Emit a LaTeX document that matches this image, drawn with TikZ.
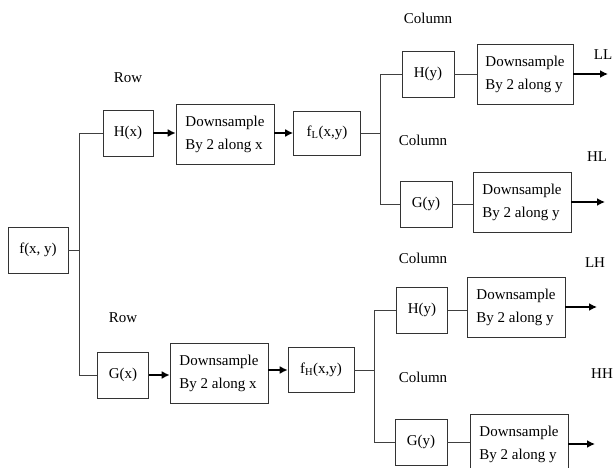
\documentclass[tikz,border=0pt]{standalone}
\usepackage{fontspec}
\setmainfont{Liberation Serif}
\usetikzlibrary{shapes,arrows,arrows.meta}
\tikzstyle{line} = [draw, line width=1.8pt, -{Latex[length=8pt,width=8pt]}]
\tikzstyle{wire} = [draw, line width=0.6pt, black!75]

\begin{document}
\begin{tikzpicture}
  [x=1pt,y=-1pt,every node/.style={font=\fontsize{15}{23}\selectfont}]
  \tikzstyle{box} = [draw=black!80, line width=0.6pt, inner sep=0pt, minimum height=46pt]
  \tikzstyle{down} = [box, align=left, minimum width=98pt, minimum height=60pt]
  \useasboundingbox (0,0) rectangle (614,468);

  \node (fxy) [box, minimum width=60pt] at (38,250)  {f(x, y)};

  % row filters
  \node (Hx) [box, minimum width=50pt] at (128,133)  {H(x)};
  \node (dsx1) [down] at (225,134)  {Downsample\\By 2 along x};
  \node (fL) [box, minimum width=67pt, minimum height=44pt] at (327,133)  {f\textsubscript{L}(x,y)};
  \node (Gx) [box, minimum width=51pt] at (123,375)  {G(x)};
  \node (dsx2) [down] at (219,373)  {Downsample\\By 2 along x};
  \node (fH) [box, minimum width=66pt, minimum height=45pt] at (321,370)  {f\textsubscript{H}(x,y)};

  \node (row1) at (128,78)  {Row};
  \node (row2) at (123,318)  {Row};

  \coordinate (b1) at (79,250);
  \path [wire] (fxy) -- (b1);
  \path [wire] (b1) |- (Hx.west);
  \path [wire] (b1) |- (Gx.west);
  \path [line] (Hx) -- (dsx1.west |- Hx);
  \path [line] (dsx1.east |- fL) -- (fL);
  \path [line] (Gx) -- (dsx2.west |- Gx);
  \path [line] (dsx2.east |- fH) -- (fH);

  % column filters on f_L
  \node (Hy1) [box, minimum width=52pt] at (428,74)  {H(y)};
  \node (dsy1) [down, minimum width=96pt] at (525,74)  {Downsample\\By 2 along y};
  \node (Gy1) [box, minimum width=52pt] at (426,204)  {G(y)};
  \node (dsy2) [down] at (522,202)  {Downsample\\By 2 along y};

  \coordinate (b2) at (380,133);
  \path [wire] (fL) -- (b2);
  \path [wire] (b2) |- (Hy1.west);
  \path [wire] (b2) |- (Gy1.west);
  \path [wire] (Hy1) -- (dsy1.west |- Hy1);
  \path [wire] (Gy1) -- (dsy2.west |- Gy1);

  \coordinate (LL) at (608,74);
  \coordinate (HL) at (605,202);
  \path [line] (dsy1) -- (LL);
  \path [line] (dsy2) -- (HL);

  % column filters on f_H
  \node (Hy2) [box, minimum width=51pt] at (422,310)  {H(y)};
  \node (dsy3) [down] at (516,307)  {Downsample\\By 2 along y};
  \node (Gy2) [box, minimum width=52pt] at (421,442)  {G(y)};
  \node (dsy4) [down] at (519,444)  {Downsample\\By 2 along y};

  \coordinate (b3) at (374,370);
  \path [wire] (fH) -- (b3);
  \path [wire] (b3) |- (Hy2.west);
  \path [wire] (b3) |- (Gy2.west);
  \path [wire] (Hy2) -- (dsy3.west |- Hy2);
  \path [wire] (Gy2) -- (dsy4.west |- Gy2);

  \coordinate (LH) at (597,307);
  \coordinate (HH) at (595,444);
  \path [line] (dsy3) -- (LH);
  \path [line] (dsy4) -- (HH);

  \node (col1) at (428,18)  {Column};
  \node (col2) at (423,140)  {Column};
  \node (col3) at (423,258)  {Column};
  \node (col4) at (423,377)  {Column};

  \node (tLL) at (603,55)  {LL};
  \node (tHL) at (597,157)  {HL};
  \node (tLH) at (595,263)  {LH};
  \node (tHH) at (602,374)  {HH};
\end{tikzpicture}
\end{document}
